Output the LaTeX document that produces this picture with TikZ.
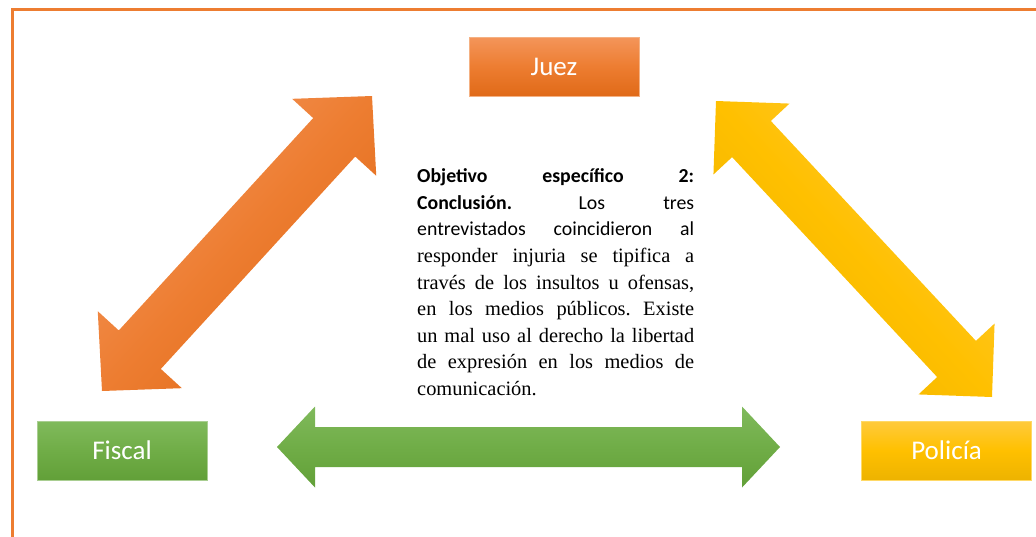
\documentclass[tikz,border=0pt]{standalone}
\usepackage{fontspec}
\setmainfont{Liberation Serif}
\newfontfamily\calibri{Carlito}
\usetikzlibrary{calc,positioning}

\definecolor{orgmid}{HTML}{ED7D31}
\definecolor{orgtop}{HTML}{F4955A}
\definecolor{orgbot}{HTML}{E06A18}
\definecolor{grnmid}{HTML}{70AD47}
\definecolor{grntop}{HTML}{80BA5C}
\definecolor{grnbot}{HTML}{62A038}
\definecolor{ylwmid}{HTML}{FFC000}
\definecolor{ylwtop}{HTML}{FFCA3C}
\definecolor{ylwbot}{HTML}{EDB300}

% double block arrow between two tips:
% #1 tip, #2 tip, #3 head length, #4 head half width, #5 shaft half width, #6 style
\newcommand{\bigarrow}[6]{%
  \path[#6] (#1)
    -- ($(#1)!#3!(#2)!#4!90:(#2)$) -- ($(#1)!#3!(#2)!#5!90:(#2)$)
    -- ($(#2)!#3!(#1)!#5!-90:(#1)$) -- ($(#2)!#3!(#1)!#4!-90:(#1)$)
    -- (#2)
    -- ($(#2)!#3!(#1)!#4!90:(#1)$) -- ($(#2)!#3!(#1)!#5!90:(#1)$)
    -- ($(#1)!#3!(#2)!#5!-90:(#2)$) -- ($(#1)!#3!(#2)!#4!-90:(#2)$)
    -- cycle;}

\begin{document}
\begin{tikzpicture}[x=1pt,y=1pt,
    role/.style={minimum width=170pt,minimum height=59pt,inner sep=0pt,
      text=white,font=\calibri\fontsize{27}{32}\selectfont},
    juezbox/.style={role,top color=orgtop,bottom color=orgbot,middle color=orgmid,draw=orgmid!60!white,line width=0.6pt},
    fiscalbox/.style={role,top color=grntop,bottom color=grnbot,middle color=grnmid,draw=grnmid!60!white,line width=0.6pt},
    policiabox/.style={role,top color=ylwtop,bottom color=ylwbot,middle color=ylwmid,draw=ylwmid!60!white,line width=0.6pt},
    orgarrow/.style={top color=orgtop,bottom color=orgbot,middle color=orgmid,shading angle=47.5},
    ylwarrow/.style={top color=ylwtop,bottom color=ylwbot,middle color=ylwmid,shading angle=-47},
    grnarrow/.style={top color=grntop,bottom color=grnbot,middle color=grnmid}]

  \useasboundingbox (0,0) rectangle (1036,-536);
  \draw[orgmid,line width=3pt] (12.5,-9.5) rectangle (1080,-580);

  \node[juezbox] (juez) at (554,-66.5) {Juez};
  \node[fiscalbox] (fiscal) at (122,-450.5) {Fiscal};
  \node[policiabox] (policia) [right=654pt of fiscal] {Policía};

  \node[text width=277pt,align=justify,inner sep=0pt,anchor=north west,
    font=\fontsize{20.4}{26.6}\selectfont] (concl) at (417,-168.5)
    {\frenchspacing{\calibri\fontsize{19.8}{26.6}\selectfont\bfseries Objetivo específico 2:\linebreak
     Conclusión.} {\calibri\fontsize{19.8}{26.6}\selectfont Los tres\linebreak
     entrevistados coincidieron al}\linebreak
     responder injuria se tipifica a\linebreak
     través de los insultos u ofensas,\linebreak
     en los medios públicos. Existe\linebreak
     un mal uso al derecho la libertad\linebreak
     de expresión en los medios de\linebreak
     comunicación.};

  \coordinate (fj1) at (102,-391);
  \coordinate (fj2) at (372,-96);
  \coordinate (jp1) at (716,-101);
  \coordinate (jp2) at (992,-397);
  \coordinate (fp1) at (277,-447);
  \coordinate (fp2) at (780,-447);

  \bigarrow{fj1}{fj2}{56pt}{57pt}{28.5pt}{orgarrow}
  \bigarrow{jp1}{jp2}{52pt}{52pt}{26.5pt}{ylwarrow}
  \bigarrow{fp1}{fp2}{38pt}{40.5pt}{20pt}{grnarrow}
\end{tikzpicture}
\end{document}
